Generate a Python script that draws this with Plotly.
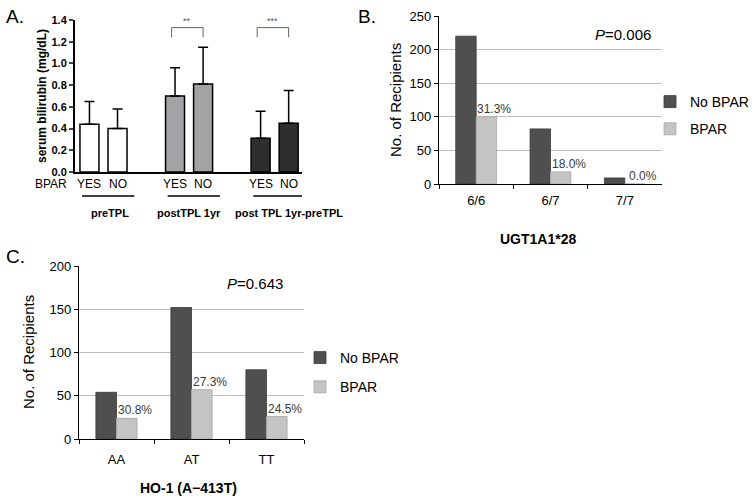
import plotly.graph_objects as go

# ---------------- Data ----------------
# Panel A
a_groups = ["preTPL", "postTPL 1yr", "post TPL 1yr-preTPL"]
a_bpar = ["YES", "NO"]
a_means = [0.44, 0.40, 0.70, 0.81, 0.31, 0.45]
a_upper = [0.65, 0.58, 0.96, 1.15, 0.56, 0.75]
a_colors = ["#ffffff", "#ffffff", "#a3a3a6", "#a3a3a6", "#2e2e2e", "#2e2e2e"]
a_sig = ["", "**", "***"]

# Panel B
b_cats = ["6/6", "6/7", "7/7"]
b_nobpar = [220, 82, 9]
b_bpar = [100, 18, 0]
b_pct = ["31.3%", "18.0%", "0.0%"]

# Panel C
c_cats = ["AA", "AT", "TT"]
c_nobpar = [54, 152, 80]
c_bpar = [24, 57, 26]
c_pct = ["30.8%", "27.3%", "24.5%"]

FONT = "Liberation Sans, Arial, sans-serif"
W, H = 754, 500
DARK = "#4f4f4f"
LIGHT = "#c4c4c4"

def px_x(p):
    return p / W

def px_y(p):
    return 1 - p / H

fig = go.Figure()

# ---------------- Panel A ----------------
off = 0.164
a_x = [g + s * off for g in range(len(a_groups)) for s in (-1, 1)]
fig.add_trace(go.Bar(
    x=a_x, y=a_means, width=0.222,
    marker=dict(color=a_colors, line=dict(color="black", width=1.5)),
    error_y=dict(type="data", symmetric=False,
                 array=[u - m for u, m in zip(a_upper, a_means)],
                 arrayminus=[0] * len(a_means),
                 color="black", thickness=1.5, width=5),
    xaxis="x", yaxis="y", showlegend=False, hoverinfo="skip",
))

# ---------------- Panel B ----------------
fig.add_trace(go.Bar(
    x=b_cats, y=b_nobpar, name="No BPAR",
    marker=dict(color=DARK, line=dict(color="#3a3a3a", width=0.8)),
    xaxis="x2", yaxis="y2", legend="legend", legendgroup="b1",
))
fig.add_trace(go.Bar(
    x=b_cats, y=b_bpar, name="BPAR",
    marker=dict(color=LIGHT, line=dict(color="#a8a8a8", width=0.8)),
    xaxis="x2", yaxis="y2", legend="legend", legendgroup="b2",
))

# ---------------- Panel C ----------------
fig.add_trace(go.Bar(
    x=c_cats, y=c_nobpar, name="No BPAR",
    marker=dict(color=DARK, line=dict(color="#3a3a3a", width=0.8)),
    xaxis="x3", yaxis="y3", legend="legend2", legendgroup="c1",
))
fig.add_trace(go.Bar(
    x=c_cats, y=c_bpar, name="BPAR",
    marker=dict(color=LIGHT, line=dict(color="#a8a8a8", width=0.8)),
    xaxis="x3", yaxis="y3", legend="legend2", legendgroup="c2",
))

annotations = []
shapes = []

def ann(text, x, y, size, xanchor="center", yanchor="middle", angle=0, color="black", **kw):
    annotations.append(dict(text=text, x=x, y=y, xref=kw.pop("xref", "paper"),
                            yref=kw.pop("yref", "paper"), xanchor=xanchor, yanchor=yanchor,
                            showarrow=False, textangle=angle,
                            font=dict(family=FONT, size=size, color=color), **kw))

# Percentage labels above BPAR bars
for cat, val, lab in zip(b_cats, b_bpar, b_pct):
    ann(lab, cat, val, 12, yanchor="bottom", color="#3a3a3a", xref="x2", yref="y2",
        xshift=18, yshift=-1)
for cat, val, lab in zip(c_cats, c_bpar, c_pct):
    ann(lab, cat, val, 12, yanchor="bottom", color="#3a3a3a", xref="x3", yref="y3",
        xshift=18, yshift=-1)

# Panel A annotations
ann("A.", px_x(4), px_y(16), 19, xanchor="left")
ann("<b>serum bilirubin (mg/dL)</b>", px_x(42), px_y(96), 12, angle=-90)
ann("BPAR", px_x(33), px_y(184), 12, xanchor="left")
for i, xv in enumerate(a_x):
    ann(a_bpar[i % 2], xv, px_y(184), 12, xref="x")
label_shift = [7, 0, 14]
for g, name in enumerate(a_groups):
    ann("<b>%s</b>" % name, g, px_y(213), 11, xref="x", xshift=label_shift[g])
    shapes.append(dict(type="line", xref="x", yref="paper",
                       x0=g - 0.25, x1=g + 0.34 if g == 2 else g + 0.36,
                       y0=px_y(196), y1=px_y(196), line=dict(color="black", width=1.5)))
    if a_sig[g]:
        x0, x1 = a_x[2 * g], a_x[2 * g + 1]
        x0 -= 0.04
        shapes.append(dict(type="path", xref="x", yref="y",
                           path="M %f,1.24 L %f,1.33 L %f,1.33 L %f,1.24" % (x0, x0, x1, x1),
                           line=dict(color="#666666", width=1)))
        ann(a_sig[g], (x0 + x1) / 2, 1.33, 9, yanchor="bottom", color="#555555",
            xref="x", yref="y")

# Panel B/C annotations
ann("B.", px_x(356), px_y(16), 19, xanchor="left")
ann("C.", px_x(4), px_y(256), 19, xanchor="left")
ann("<i>P</i>=0.006", px_x(653), px_y(34), 15, xanchor="right")
ann("<i>P</i>=0.643", px_x(285), px_y(283), 15, xanchor="right")
ann("No. of Recipients", px_x(396), px_y(100), 15, angle=-90)
ann("No. of Recipients", px_x(28), px_y(352), 15, angle=-90)
ann("<b>UGT1A1*28</b>", px_x(538), px_y(239), 14)
ann("<b>HO-1 (A\u2212413T)</b>", px_x(188), px_y(488), 14)

axis_common_bar = dict(showline=True, linecolor="black", linewidth=1.2,
                       ticks="outside", ticklen=4, tickcolor="black", automargin=False,
                       tickfont=dict(family=FONT, size=13, color="black"))

fig.update_layout(
    width=W, height=H, margin=dict(l=0, r=0, t=0, b=0, autoexpand=False),
    paper_bgcolor="white", plot_bgcolor="rgba(0,0,0,0)",
    font=dict(family=FONT, color="black"),
    barmode="group", bargap=0.45, bargroupgap=0.0,
    xaxis=dict(domain=[px_x(75), px_x(302)], range=[-0.333, 2.32], showticklabels=False,
               showline=True, linecolor="black", linewidth=2, ticks="", showgrid=False,
               zeroline=False, anchor="y", automargin=False),
    yaxis=dict(domain=[px_y(172), px_y(20)], range=[0, 1.4], dtick=0.2, tickformat=".1f",
               showline=True, linecolor="black", linewidth=2, ticks="outside", ticklen=4,
               tickwidth=1.5, showgrid=False, zeroline=False, anchor="x", automargin=False,
               tickfont=dict(family=FONT, size=11, color="black", weight="bold")),
    xaxis2=dict(domain=[px_x(439), px_x(662)], anchor="y2", tickson="boundaries",
                showgrid=False, ticklabelstandoff=4, **axis_common_bar),
    yaxis2=dict(domain=[px_y(184), px_y(16)], anchor="x2", range=[0, 250], dtick=50,
                showgrid=True, gridcolor="#bdbdbd", gridwidth=1, zeroline=False,
                **axis_common_bar),
    xaxis3=dict(domain=[px_x(79), px_x(304)], anchor="y3", tickson="boundaries",
                showgrid=False, ticklabelstandoff=8, **axis_common_bar),
    yaxis3=dict(domain=[px_y(439), px_y(266)], anchor="x3", range=[0, 200], dtick=50,
                showgrid=True, gridcolor="#bdbdbd", gridwidth=1, zeroline=False,
                **axis_common_bar),
    legend=dict(x=px_x(650), y=px_y(86), xanchor="left", yanchor="top",
                bgcolor="rgba(0,0,0,0)", font=dict(family=FONT, size=14, color="black"),
                tracegroupgap=6, traceorder="grouped"),
    legend2=dict(x=px_x(300), y=px_y(342), xanchor="left", yanchor="top",
                 bgcolor="rgba(0,0,0,0)", font=dict(family=FONT, size=14, color="black"),
                 tracegroupgap=8, traceorder="grouped"),
    annotations=annotations,
    shapes=shapes,
)

fig.write_html("out.html", config={"displayModeBar": False},
               post_script="document.body.style.margin='0px';")
